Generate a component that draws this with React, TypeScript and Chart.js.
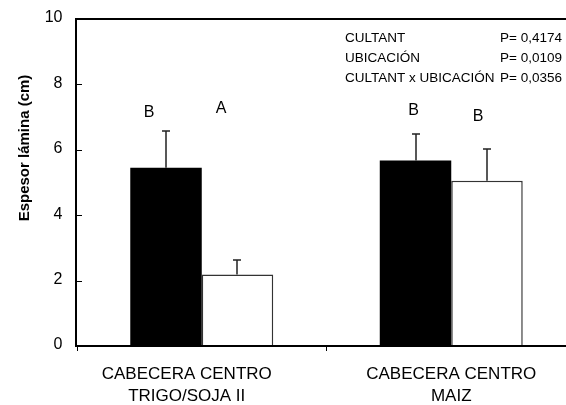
import { useEffect, useRef } from 'react';
import { Chart, registerables } from 'chart.js';

Chart.register(...registerables);

const categories = [
  ['CABECERA CENTRO', 'TRIGO/SOJA II'],
  ['CABECERA CENTRO', 'MAIZ'],
];
const blackValues = [5.45, 5.67];
const whiteValues = [2.19, 5.05];
const blackErrors = [1.13, 0.8];
const whiteErrors = [0.44, 0.97];
const blackLetters = ['B', 'B'];
const whiteLetters = ['A', 'B'];
const blackLetterY = [7.14, 7.19];
const whiteLetterY = [7.25, 7.01];
const yTicks = [0, 2, 4, 6, 8, 10];
const yTickLabels = ['0', '2', '4', '6', '8', '10'];
const statLabels = ['CULTANT', 'UBICACIÓN', 'CULTANT x UBICACIÓN'];
const statValues = ['P= 0,4174', 'P= 0,0109', 'P= 0,0356'];
const yTitle = 'Espesor lámina (cm)';

const FONT = "'Liberation Sans', Arial, sans-serif";
const letterOffsets = [
  [-17, -2.5],
  [-16, -9],
];
const catLabelOffsets = [-15, 0];

const overlay = {
  id: 'overlay',
  afterDraw(chart: any) {
    const ctx = chart.ctx as CanvasRenderingContext2D;
    const { left, right, top, bottom } = chart.chartArea;
    const ys = chart.scales.y;
    const xs = chart.scales.x;
    const errs = [blackErrors, whiteErrors];
    const vals = [blackValues, whiteValues];
    const letters = [blackLetters, whiteLetters];
    const letterY = [blackLetterY, whiteLetterY];
    ctx.save();
    // error bars
    for (let d = 0; d < 2; d++) {
      const meta = chart.getDatasetMeta(d);
      meta.data.forEach((el: any, i: number) => {
        const x = Math.round(el.x);
        const y0 = ys.getPixelForValue(vals[d][i]);
        const y1 = Math.round(ys.getPixelForValue(vals[d][i] + errs[d][i]));
        ctx.strokeStyle = '#222';
        ctx.lineWidth = 1.5;
        ctx.beginPath();
        ctx.moveTo(x, y0);
        ctx.lineTo(x, y1);
        ctx.moveTo(x - 4, y1);
        ctx.lineTo(x + 4, y1);
        ctx.stroke();
        ctx.fillStyle = '#000';
        ctx.font = `16px ${FONT}`;
        ctx.textAlign = 'center';
        ctx.textBaseline = 'middle';
        ctx.fillText(letters[d][i], x + letterOffsets[d][i], ys.getPixelForValue(letterY[d][i]));
      });
    }
    // axis frame
    ctx.strokeStyle = '#000';
    ctx.lineWidth = 2;
    ctx.beginPath();
    ctx.moveTo(right + 10, top);
    ctx.lineTo(left - 1, top);
    ctx.lineTo(left - 1, bottom);
    ctx.lineTo(right + 10, bottom);
    ctx.stroke();
    // inner y ticks + labels
    ctx.lineWidth = 1;
    ctx.font = `16px ${FONT}`;
    ctx.fillStyle = '#000';
    ctx.textAlign = 'right';
    ctx.textBaseline = 'middle';
    yTicks.forEach((t, i) => {
      const yp = ys.getPixelForValue(t);
      const y = Math.round(yp) + 0.5;
      ctx.beginPath();
      ctx.moveTo(left, y);
      ctx.lineTo(left + 5, y);
      ctx.stroke();
      ctx.fillText(yTickLabels[i], 62.5, yp - 1);
    });
    // x category labels
    ctx.textAlign = 'center';
    ctx.font = `17px ${FONT}`;
    categories.forEach((lines, i) => {
      const x = xs.getPixelForValue(i) + catLabelOffsets[i];
      lines.forEach((line, j) => {
        ctx.fillText(line, x, 374.5 + j * 22);
      });
    });
    // y title
    ctx.save();
    ctx.translate(25, 148);
    ctx.rotate(-Math.PI / 2);
    ctx.font = `bold 15px ${FONT}`;
    ctx.textAlign = 'center';
    ctx.textBaseline = 'middle';
    ctx.fillText(yTitle, 0, 0);
    ctx.restore();
    // stats
    ctx.font = `13.5px ${FONT}`;
    ctx.textBaseline = 'middle';
    statLabels.forEach((s, i) => {
      const y = 38.5 + i * 20;
      ctx.textAlign = 'left';
      ctx.fillText(s, 345, y);
      ctx.textAlign = 'right';
      ctx.fillText(statValues[i], 562, y);
    });
    ctx.restore();
  },
};

export default function App() {
  const ref = useRef<HTMLCanvasElement | null>(null);
  useEffect(() => {
    if (!ref.current) return;
    const chart = new Chart(ref.current, {
      type: 'bar',
      data: {
        labels: categories,
        datasets: [
          {
            data: blackValues,
            backgroundColor: '#000',
            borderColor: '#000',
            borderWidth: 0,
            categoryPercentage: 0.573,
            barPercentage: 1,
          },
          {
            data: whiteValues,
            backgroundColor: '#fff',
            borderColor: '#333',
            borderWidth: 1.5,
            categoryPercentage: 0.573,
            barPercentage: 1,
          },
        ],
      },
      options: {
        animation: false,
        responsive: false,
        devicePixelRatio: 1,
        layout: { padding: { left: 0, top: 19, right: 4, bottom: 0 } },
        plugins: { legend: { display: false }, tooltip: { enabled: false } },
        scales: {
          x: {
            afterFit: (s: any) => {
              s.height = 59;
            },
            grid: {
              display: true,
              drawOnChartArea: false,
              drawTicks: true,
              tickLength: 5,
              tickColor: '#000',
              tickWidth: 1,
              offset: true,
            },
            border: { display: false },
            ticks: { display: false },
          },
          y: {
            min: 0,
            max: 10,
            afterFit: (s: any) => {
              s.width = 77;
            },
            afterBuildTicks: (s: any) => {
              s.ticks = yTicks.map((v) => ({ value: v }));
            },
            grid: { display: false },
            border: { display: false },
            ticks: { display: false },
          },
        },
      },
      plugins: [overlay],
    });
    return () => chart.destroy();
  }, []);
  return (
    <div
      style={{
        position: 'fixed',
        left: 0,
        top: 0,
        width: 566,
        height: 405,
        overflow: 'hidden',
        background: '#fff',
      }}
    >
      <canvas ref={ref} width={580} height={405} style={{ width: 580, height: 405, display: 'block' }} />
    </div>
  );
}
